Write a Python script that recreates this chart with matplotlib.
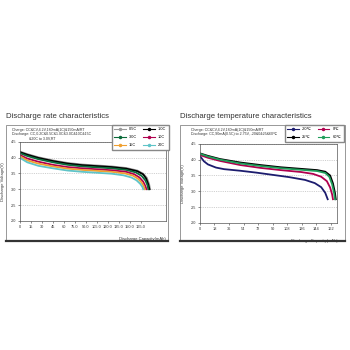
import matplotlib
matplotlib.use("Agg")
import matplotlib.pyplot as plt
from matplotlib.patches import Rectangle
from matplotlib.lines import Line2D

plt.rcParams['font.family'] = ['Liberation Sans', 'DejaVu Sans']

# --- discharge rate data (mAh, V) ---
rate_labels = ['0.5C', '1.0C', '3.0C', '10C', '15C', '20C']
rate_colors = ['#9a9a9a', '#000000', '#0b6b3a', '#b0004e', '#f0a030', '#5fc4c8']
rate_cap = [
    [0, 10, 25, 45, 65, 85, 105, 125, 145, 160, 168, 173, 176, 177.5],
    [0, 10, 25, 45, 65, 85, 105, 125, 145, 160, 168, 172, 175, 176.5],
    [0, 10, 25, 45, 65, 85, 105, 125, 145, 158, 166, 171, 174, 175],
    [0, 10, 25, 45, 65, 85, 105, 125, 145, 156, 163, 168, 171, 172.5],
    [0, 10, 25, 45, 65, 85, 105, 125, 143, 154, 161, 166, 169, 170],
    [0, 10, 25, 45, 65, 85, 105, 125, 141, 152, 159, 164, 167, 168],
]
rate_volt = [
    [4.19, 4.11, 4.01, 3.91, 3.83, 3.78, 3.75, 3.72, 3.67, 3.59, 3.49, 3.36, 3.17, 3.00],
    [4.17, 4.09, 3.99, 3.89, 3.81, 3.76, 3.73, 3.70, 3.65, 3.57, 3.47, 3.34, 3.15, 3.00],
    [4.14, 4.05, 3.95, 3.85, 3.77, 3.72, 3.69, 3.66, 3.61, 3.53, 3.42, 3.28, 3.12, 3.00],
    [4.08, 3.97, 3.87, 3.77, 3.70, 3.66, 3.63, 3.60, 3.55, 3.47, 3.37, 3.24, 3.10, 3.00],
    [4.04, 3.91, 3.81, 3.72, 3.65, 3.61, 3.58, 3.55, 3.50, 3.43, 3.33, 3.21, 3.09, 3.00],
    [3.99, 3.85, 3.74, 3.66, 3.59, 3.55, 3.52, 3.49, 3.44, 3.37, 3.28, 3.17, 3.07, 3.00],
]
rate_xticks = [0, 15, 30, 45, 60, 75, 90, 105, 120, 135, 150, 165]
rate_xticklabels = ['0', '15', '30', '45', '60', '75.0', '90.0', '105.0', '120.0', '135.0', '150.0', '165.0']

# --- discharge temperature data (mAh, V) ---
temp_labels = ['-20\u2103', '0\u2103', '25\u2103', '60\u2103']
temp_colors = ['#1c1c6e', '#b0004e', '#000000', '#1f9e5a']
temp_cap = [
    [0, 5, 10, 20, 30, 50, 70, 90, 110, 130, 142, 150, 155, 158],
    [0, 10, 25, 50, 75, 100, 125, 140, 150, 157, 161, 163.5, 164.5],
    [0, 10, 25, 50, 75, 100, 125, 145, 155, 161, 164.5, 167, 168],
    [0, 10, 25, 50, 75, 100, 125, 145, 155, 160, 163.5, 166, 167],
]
temp_volt = [
    [4.12, 3.95, 3.85, 3.75, 3.70, 3.65, 3.59, 3.52, 3.45, 3.36, 3.26, 3.13, 2.95, 2.75],
    [4.15, 4.06, 3.96, 3.83, 3.74, 3.67, 3.61, 3.55, 3.46, 3.32, 3.12, 2.90, 2.75],
    [4.20, 4.12, 4.02, 3.91, 3.83, 3.76, 3.71, 3.67, 3.62, 3.50, 3.25, 2.95, 2.75],
    [4.19, 4.10, 4.00, 3.88, 3.80, 3.73, 3.68, 3.64, 3.58, 3.46, 3.22, 2.93, 2.75],
]
temp_xticks = [0, 18, 36, 54, 72, 90, 108, 126, 144, 162]

yticks = [2.0, 2.5, 3.0, 3.5, 4.0, 4.5]

fig = plt.figure(figsize=(3.5, 3.5), dpi=100)

# panel frames with heavier bottom edge
for x0, w in [(0.017, 0.463), (0.514, 0.471)]:
    fig.patches.append(Rectangle((x0, 0.311), w, 0.332, transform=fig.transFigure,
                                 fill=False, edgecolor='#888888', linewidth=0.6))
    fig.lines.append(Line2D([x0, x0 + w], [0.311, 0.311], transform=fig.transFigure,
                            color='#333333', linewidth=1.6))

fig.text(0.017, 0.667, 'Discharge rate characteristics', fontsize=5.6,
         color='#333333', va='center')
fig.text(0.514, 0.667, 'Discharge temperature characteristics', fontsize=5.6,
         color='#333333', va='center')

fig.text(0.035, 0.635, 'Charge: CC&CV,4.2V,180mA(1C)&150mA/RT\n'
         'Discharge: CC,0.2C&0.5C&1.0C&3.0C&10C&15C\n'
         '                 &20C to 3.0V,RT',
         fontsize=2.6, va='top', color='#333333', linespacing=1.1)
fig.text(0.545, 0.635, 'Charge: CC&CV,4.2V,180mA(1C)&150mA/RT\n'
         'Discharge: CC,90mA(0.5C) to 2.75V, -20&0&25&60\u2103',
         fontsize=2.6, va='top', color='#333333', linespacing=1.1)


def style_axes(ax, xmax, xticks):
    ax.set_xlim(0, xmax)
    ax.set_ylim(2.0, 4.5)
    ax.set_yticks(yticks)
    ax.set_xticks(xticks)
    ax.grid(axis='y', linestyle=(0, (2, 2)), color='#aaaaaa', linewidth=0.4)
    ax.tick_params(labelsize=2.8, length=1.2, width=0.4, pad=1.5, colors='#333333')
    for s in ax.spines.values():
        s.set_linewidth(0.5)
        s.set_color('#555555')
    ax.set_ylabel('Discharge Voltage(V)', fontsize=3, labelpad=4, color='#333333')
    ax.text(1.0, -0.2, 'Discharge Capacity(mAh)', transform=ax.transAxes,
            ha='right', va='top', fontsize=3, color='#333333')


ax1 = fig.add_axes([0.057, 0.369, 0.417, 0.226])
for c, v, lab, col in zip(rate_cap, rate_volt, rate_labels, rate_colors):
    ax1.plot(c, v, color=col, linewidth=1.3, label=lab)
style_axes(ax1, 199, rate_xticks)
ax1.set_xticklabels(rate_xticklabels)
ax1.set_yticklabels(['%.1f' % t for t in yticks])

ax2 = fig.add_axes([0.571, 0.363, 0.393, 0.226])
for c, v, lab, col in zip(temp_cap, temp_volt, temp_labels, temp_colors):
    ax2.plot(c, v, color=col, linewidth=1.3, label=lab)
style_axes(ax2, 170, temp_xticks)
ax2.set_yticklabels(['%.1f' % t for t in yticks])


def row_major(items, ncol):
    # legend fills columns first; reorder so entries read across rows
    return [items[r * ncol + c] for c in range(ncol) for r in range(len(items) // ncol)]


def legend_handles(colors):
    return [Line2D([0], [0], color=col, linewidth=0.8, marker='o', markersize=1.5)
            for col in colors]


fig.legend(row_major(legend_handles(rate_colors), 2), row_major(rate_labels, 2), ncol=2,
           loc='upper right', bbox_to_anchor=(0.487, 0.648), fontsize=2.8,
           frameon=True, fancybox=False, edgecolor='#888888', framealpha=1,
           handlelength=3, columnspacing=1.5, borderpad=0.6, labelspacing=1.0)
fig.legend(row_major(legend_handles(temp_colors), 2), row_major(temp_labels, 2), ncol=2,
           loc='upper right', bbox_to_anchor=(0.987, 0.648), fontsize=2.8,
           frameon=True, fancybox=False, edgecolor='#888888', framealpha=1,
           handlelength=3, columnspacing=1.5, borderpad=0.6, labelspacing=1.0)

fig.savefig('out.png', dpi=100, facecolor='white')
